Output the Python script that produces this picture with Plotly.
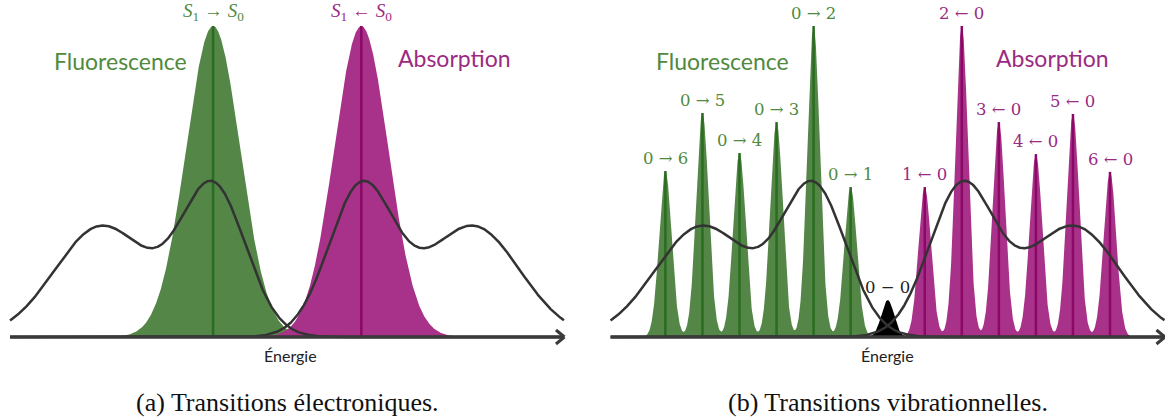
import numpy as np
import plotly.graph_objects as go

# ---------------- data ----------------
# electronic transitions (panel a): positions in energy units, peak intensities
ELEC_POS = [-2.0, 2.0]
ELEC_INT = [1.0, 1.0]
ELEC_LABELS = ["<i>S</i><sub>1</sub> → <i>S</i><sub>0</sub>",
               "<i>S</i><sub>1</sub> ← <i>S</i><sub>0</sub>"]
ELEC_WIDTH = 0.73

# vibrational transitions (panel b)
VIB_LEVELS = [1, 2, 3, 4, 5, 6]
FLUO_INT = [0.482, 1.0, 0.691, 0.592, 0.720, 0.534]
ABS_INT = [0.482, 1.0, 0.691, 0.588, 0.717, 0.531]
ZERO_INT = 0.119
FLUO_LABELS = ["0 → 1", "0 → 2", "0 → 3", "0 → 4", "0 → 5", "0 → 6"]
ABS_LABELS = ["1 ← 0", "2 ← 0", "3 ← 0", "4 ← 0", "5 ← 0", "6 ← 0"]
ZERO_LABEL = "0 − 0"
VIB_WIDTH = 0.17

# envelope (black curves): component positions, amplitudes, widths
ENV_POS = [2.0, 5.0]
ENV_AMP = [0.479, 0.357]
ENV_WIDTH = [0.88, 1.27]

X_MIN, X_MAX = -7.48, 7.47

# ---------------- colours ----------------
GREEN_FILL = "#548647"
GREEN_LINE = "#2a6c20"
GREEN_TEXT = "#4f8a3e"
MAG_FILL = "#a83289"
MAG_LINE = "#8c0867"
MAG_TEXT = "#9b2a82"
DARK = "#333333"
AXIS = "#3a3a3a"

SERIF = "Liberation Serif, DejaVu Serif, serif"
MATH = "DejaVu Serif, Liberation Serif, serif"
SANS = "Lato, Open Sans, sans-serif"

x = np.linspace(X_MIN, X_MAX, 3000)


def gauss(x, c, a, s):
    return a * np.exp(-((x - c) ** 2) / (2 * s * s))


def envelope(sign):
    return sum(gauss(x, sign * p, a, w) for p, a, w in zip(ENV_POS, ENV_AMP, ENV_WIDTH))


fig = go.Figure()

# ---------------- panel a ----------------
for pos, inten, col in zip(ELEC_POS, ELEC_INT, [GREEN_FILL, MAG_FILL]):
    fig.add_trace(go.Scatter(x=x, y=gauss(x, pos, inten, ELEC_WIDTH), mode="lines",
                             line=dict(width=0, color=col), fill="tozeroy", fillcolor=col,
                             xaxis="x", yaxis="y", hoverinfo="skip"))
for pos, inten, col in zip(ELEC_POS, ELEC_INT, [GREEN_LINE, MAG_LINE]):
    fig.add_trace(go.Scatter(x=[pos, pos], y=[0, inten], mode="lines",
                             line=dict(width=2.5, color=col), xaxis="x", yaxis="y"))
for sign in (-1, 1):
    fig.add_trace(go.Scatter(x=x, y=envelope(sign), mode="lines",
                             line=dict(width=2.5, color=DARK), xaxis="x", yaxis="y"))

# ---------------- panel b ----------------
fluo_pos = [-n for n in VIB_LEVELS]
abs_pos = [n for n in VIB_LEVELS]
fluo_y = sum(gauss(x, p, a, VIB_WIDTH) for p, a in zip(fluo_pos, FLUO_INT))
abs_y = sum(gauss(x, p, a, VIB_WIDTH) for p, a in zip(abs_pos, ABS_INT))
zero_y = gauss(x, 0.0, ZERO_INT, VIB_WIDTH)
for yy, col in ((fluo_y, GREEN_FILL), (abs_y, MAG_FILL), (zero_y, "#000000")):
    fig.add_trace(go.Scatter(x=x, y=yy, mode="lines", line=dict(width=0, color=col),
                             fill="tozeroy", fillcolor=col, xaxis="x2", yaxis="y2",
                             hoverinfo="skip"))


def vlines(pos, inten):
    xs, ys = [], []
    for p, a in zip(pos, inten):
        xs += [p, p, None]
        ys += [0, a, None]
    return xs, ys


for pos, inten, col in ((fluo_pos, FLUO_INT, GREEN_LINE), (abs_pos, ABS_INT, MAG_LINE)):
    xs, ys = vlines(pos, inten)
    fig.add_trace(go.Scatter(x=xs, y=ys, mode="lines", line=dict(width=2.5, color=col),
                             xaxis="x2", yaxis="y2"))
for sign in (-1, 1):
    fig.add_trace(go.Scatter(x=x, y=envelope(sign), mode="lines",
                             line=dict(width=2.5, color=DARK), xaxis="x2", yaxis="y2"))

# ---------------- axes (arrows) ----------------
shapes = []
for xr in ("x", "x2"):
    shapes.append(dict(type="line", xref=xr, yref="y", x0=X_MIN, x1=X_MAX, y0=0, y1=0,
                       line=dict(color=AXIS, width=3.5), layer="above"))
    for dy in (-7, 7):
        shapes.append(dict(type="line", xref=xr, yref="y", xsizemode="pixel",
                           ysizemode="pixel", xanchor=X_MAX, yanchor=0,
                           x0=0.5, y0=0, x1=-8, y1=dy,
                           line=dict(color=AXIS, width=3), layer="above"))

# ---------------- annotations ----------------
ann = []
for pos, inten, lab, col in zip(ELEC_POS, ELEC_INT, ELEC_LABELS, [GREEN_TEXT, MAG_TEXT]):
    ann.append(dict(x=pos, y=inten, xref="x", yref="y", text=lab, showarrow=False,
                    yanchor="bottom", yshift=0, font=dict(family=SERIF, size=19, color=col)))
for pos, inten, lab in zip(fluo_pos, FLUO_INT, FLUO_LABELS):
    ann.append(dict(x=pos, y=inten, xref="x2", yref="y2", text=lab, showarrow=False,
                    yanchor="bottom", yshift=1, font=dict(family=MATH, size=16.5, color=GREEN_TEXT)))
for pos, inten, lab in zip(abs_pos, ABS_INT, ABS_LABELS):
    ann.append(dict(x=pos, y=inten, xref="x2", yref="y2", text=lab, showarrow=False,
                    yanchor="bottom", yshift=1, font=dict(family=MATH, size=16.5, color=MAG_TEXT)))
ann.append(dict(x=0, y=ZERO_INT, xref="x2", yref="y2", text=ZERO_LABEL, showarrow=False,
                yanchor="bottom", yshift=1, font=dict(family=MATH, size=16.5, color="#222222")))

for xr, capt, fx, ax_ in (("x", "(a) Transitions électroniques.", -4.486, 4.502),
                          ("x2", "(b) Transitions vibrationnelles.", -4.472, 4.46)):
    ann.append(dict(x=fx, y=0.8875, xref=xr, yref="y", text="Fluorescence", showarrow=False,
                    font=dict(family=SANS, size=23, color=GREEN_TEXT)))
    ann.append(dict(x=ax_, y=0.897, xref=xr, yref="y", text="Absorption", showarrow=False,
                    font=dict(family=SANS, size=23, color=MAG_TEXT)))
    ann.append(dict(x=0.08 if xr == "x" else 0.0, y=-0.061, xref=xr, yref="y", text="Énergie",
                    showarrow=False, font=dict(family=SANS, size=16, color="#222222")))
    ann.append(dict(x=0.0, y=-0.212, xref=xr, yref="y", text=capt, showarrow=False,
                    font=dict(family=SERIF, size=26, color="#111111")))

fig.update_layout(
    width=1165, height=419,
    margin=dict(l=0, r=0, t=0, b=0),
    paper_bgcolor="white", plot_bgcolor="white",
    showlegend=False,
    shapes=shapes,
    annotations=ann,
    xaxis=dict(domain=[0, 0.5], range=[-287.2 / 37.05, (582.5 - 287.2) / 37.05],
               visible=False, fixedrange=True),
    xaxis2=dict(domain=[0.5, 1], range=[(582.5 - 887.7) / 37.05, (1165 - 887.7) / 37.05],
                visible=False, fixedrange=True),
    yaxis=dict(domain=[0, 1], range=[-82 / 311, 337 / 311], visible=False, fixedrange=True),
    yaxis2=dict(domain=[0, 1], range=[-82 / 311, 337 / 311], visible=False, fixedrange=True,
                anchor="x2"),
)

fig.write_html("out.html", config={"displayModeBar": False},
               post_script="document.body.style.margin='0px';document.body.style.overflow='hidden';")
